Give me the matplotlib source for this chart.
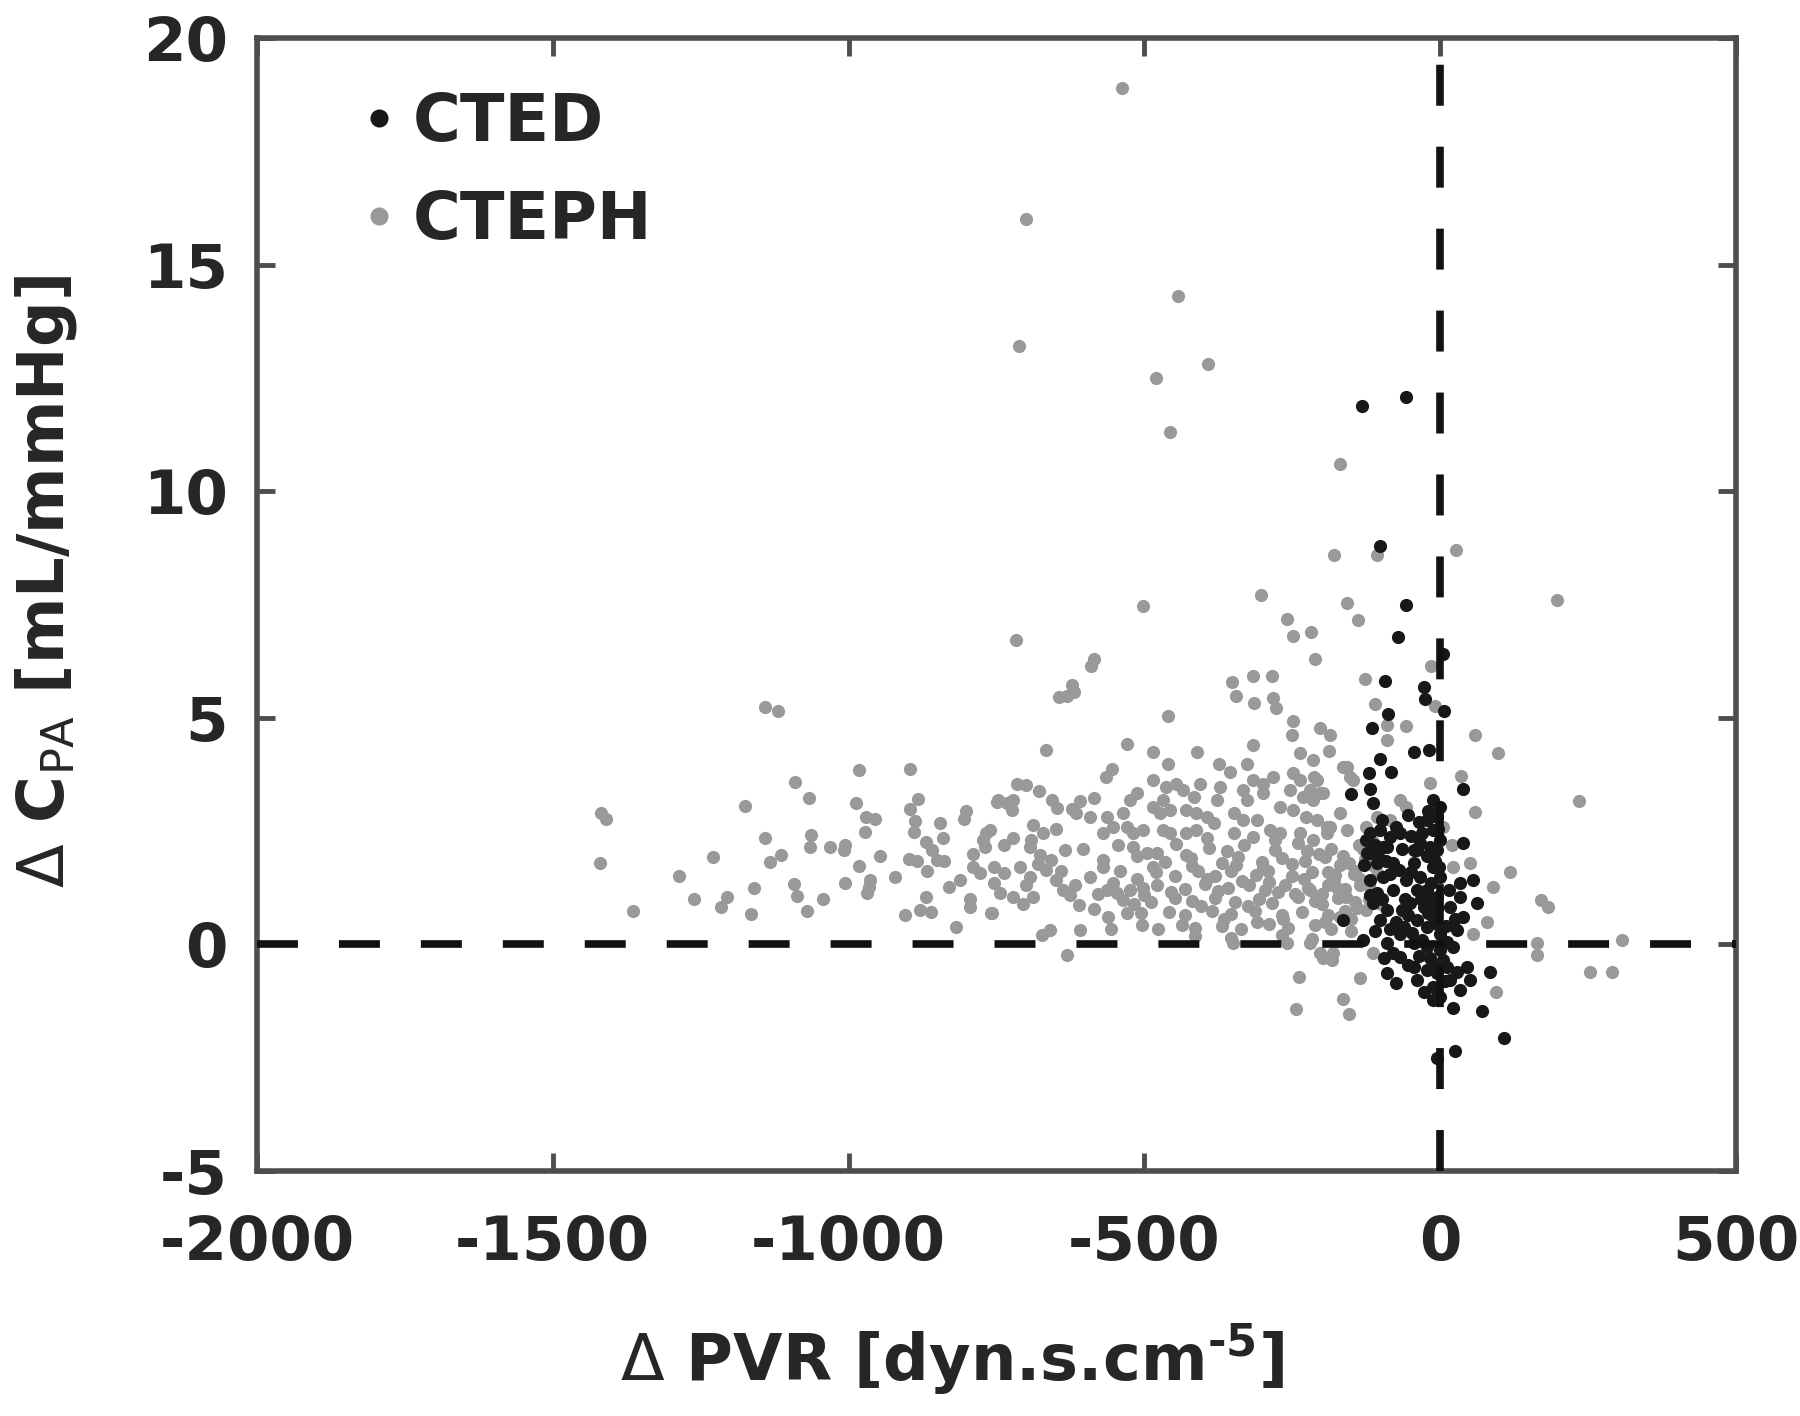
import matplotlib
matplotlib.use("Agg")
import matplotlib.pyplot as plt
from matplotlib.lines import Line2D

plt.rcParams['font.family'] = ['DejaVu Sans']
plt.rcParams['axes.unicode_minus'] = False
plt.rcParams['lines.scale_dashes'] = False
plt.rcParams['mathtext.fontset'] = 'custom'
plt.rcParams['mathtext.rm'] = 'DejaVu Sans:weight=normal'
plt.rcParams['mathtext.bf'] = 'DejaVu Sans:weight=bold'

# (delta PVR [dyn.s.cm-5], delta C_PA [mL/mmHg]) pairs
cteph_outliers = [
    (-538, 18.9), (-700, 16.0), (-443, 14.3), (-712, 13.2), (-392, 12.8),
    (-481, 12.5), (-456, 11.3), (-169, 10.6), (-179, 8.6), (-107, 8.6),
    (27, 8.7), (198, 7.6), (-303, 7.7),
]

cteph_left = [
    (-1419, 2.9), (-1410, 2.76), (-1420, 1.8), (-1365, 0.73), (-1287, 1.5),
    (-1262, 1.0), (-1230, 1.92), (-1216, 0.82), (-1205, 1.05), (-1175, 3.06),
    (-1165, 0.67), (-1160, 1.24), (-1141, 5.23), (-1120, 5.14), (-1141, 2.35),
    (-1133, 1.82), (-1115, 1.97), (-1091, 3.58), (-1093, 1.33), (-1088, 1.07),
    (-1067, 3.23), (-1064, 2.42), (-1065, 2.14), (-1071, 0.73), (-1044, 1.01),
    (-1032, 2.14), (-1006, 2.2), (-1007, 2.08), (-1006, 1.35), (-983, 3.85),
    (-987, 3.13), (-970, 2.82), (-956, 2.76), (-973, 2.47), (-983, 1.73),
    (-947, 1.94), (-964, 1.42), (-966, 1.27), (-969, 1.14), (-922, 1.48),
    (-897, 3.86), (-882, 3.2), (-896, 2.98), (-887, 2.73), (-889, 2.48),
    (-870, 2.26), (-859, 2.08), (-851, 1.86), (-838, 1.85), (-846, 2.67),
    (-841, 2.35), (-898, 1.89), (-884, 1.85), (-868, 1.61), (-870, 1.04),
    (-879, 0.76), (-860, 0.71), (-904, 0.64), (-830, 1.26), (-812, 1.41),
    (-819, 0.39), (-802, 2.95), (-805, 2.77), (-795, 1.01), (-795, 0.83),
    (-760, 0.69), (-790, 2.0), (-790, 1.71), (-778, 1.57), (-767, 2.45),
    (-770, 2.16), (-750, 3.15),
]

cteph_mid = [
    (-503, 7.47), (-717, 6.72), (-586, 6.29), (-590, 6.14), (-622, 5.73),
    (-619, 5.57), (-645, 5.45), (-630, 5.47), (-460, 5.04), (-667, 4.3),
    (-530, 4.42), (-486, 4.25), (-411, 4.25), (-460, 3.98), (-555, 3.86),
    (-565, 3.69), (-716, 3.55), (-700, 3.51), (-678, 3.39), (-748, 3.19),
    (-733, 3.11), (-724, 2.97), (-722, 3.19), (-657, 3.19), (-647, 3.02),
    (-609, 3.16), (-586, 3.22), (-622, 2.98), (-616, 2.89), (-592, 2.82),
    (-761, 2.52), (-772, 2.3), (-738, 2.19), (-722, 2.35), (-688, 2.63),
    (-671, 2.45), (-649, 2.55), (-694, 2.16), (-677, 1.97), (-658, 1.86),
    (-635, 2.08), (-755, 1.71), (-738, 1.57), (-710, 1.71), (-694, 1.49),
    (-666, 1.64), (-649, 1.42), (-638, 1.2), (-755, 1.35), (-744, 1.13),
    (-722, 1.05), (-705, 0.9), (-688, 1.05), (-758, 0.69), (-626, 1.08),
    (-611, 0.86), (-586, 0.79), (-673, 0.21), (-660, 0.32), (-631, -0.24),
    (-609, 0.32), (-556, 0.33), (-592, 1.49), (-570, 1.86), (-570, 1.71),
    (-553, 1.35), (-564, 1.2), (-547, 1.13), (-536, 0.98), (-530, 0.69),
    (-525, 1.2), (-564, 2.82), (-570, 2.45), (-553, 2.6), (-536, 2.89),
    (-525, 3.19), (-513, 3.33), (-530, 2.6), (-519, 2.45), (-502, 2.52),
    (-519, 2.16), (-513, 1.94), (-496, 2.01), (-485, 3.04), (-468, 3.19),
    (-474, 2.89), (-457, 2.97), (-485, 3.63), (-463, 3.48), (-446, 3.55),
    (-434, 3.41), (-417, 3.26), (-429, 2.97), (-412, 2.89), (-406, 3.55),
    (-468, 2.52), (-457, 2.45), (-485, 1.71), (-479, 2.01), (-429, 2.45),
    (-412, 2.52), (-700, 1.3), (-680, 1.78), (-641, 1.62), (-618, 1.31),
    (-603, 2.1), (-579, 1.12), (-561, 0.61), (-541, 1.62), (-518, 0.9),
    (-545, 2.2), (-512, 1.45), (-692, 2.31), (-503, 1.25), (-505, 0.7),
]

cteph_upper_right = [
    (-259, 7.19), (-248, 6.8), (-219, 6.89), (-211, 6.29), (-158, 7.53),
    (-139, 7.16), (-352, 5.8), (-345, 5.48), (-316, 5.92), (-285, 5.92),
    (-314, 5.32), (-283, 5.44), (-277, 5.22), (-127, 5.86), (-111, 5.3),
    (-248, 4.92), (-250, 4.63), (-203, 4.77), (-186, 4.61), (-188, 4.27),
    (-237, 4.22), (-316, 4.39), (-374, 3.98), (-355, 3.8), (-327, 3.97),
    (-316, 3.63), (-299, 3.55), (-282, 3.7), (-333, 3.41), (-327, 3.19),
    (-299, 3.33), (-372, 3.48), (-378, 3.19), (-248, 3.78), (-237, 3.63),
    (-254, 3.41), (-215, 4.07), (-209, 3.63), (-198, 3.33), (-232, 3.26),
    (-215, 3.19), (-158, 3.92), (-147, 3.63), (-395, 2.82), (-383, 2.67),
    (-349, 2.89), (-333, 2.74), (-310, 2.74), (-271, 3.04), (-248, 2.97),
    (-226, 2.82), (-209, 2.74), (-192, 2.6), (-349, 2.45), (-316, 2.38),
    (-287, 2.52), (-271, 2.45), (-237, 2.45), (-215, 2.3), (-192, 2.45),
    (-158, 2.52), (-16, 6.14), (-90, 4.85), (-90, 4.51), (-58, 4.82),
    (-8, 5.25), (59, 4.61), (98, 4.22), (234, 3.17), (35, 3.72),
    (-17, 3.57), (59, 2.92), (-164, 3.92), (-152, 3.7), (-214, 3.7),
    (-220, 3.41), (-203, 3.33), (-169, 2.89), (-186, 2.6), (-68, 3.19),
    (-57, 3.04), (-107, 2.82), (-85, 2.74),
]

cteph_band = [
    (-446, 2.21), (-391, 2.12), (-331, 2.19), (-279, 2.08), (-241, 2.23),
    (-185, 2.11), (-138, 2.2), (-466, 1.82), (-421, 1.91), (-369, 1.79),
    (-341, 1.93), (-302, 1.81), (-268, 1.9), (-229, 1.83), (-195, 1.92),
    (-154, 1.8), (-127, 1.88), (-449, 1.52), (-409, 1.63), (-381, 1.5),
    (-353, 1.61), (-312, 1.54), (-291, 1.62), (-251, 1.51), (-217, 1.6),
    (-178, 1.53), (-144, 1.62), (-478, 1.31), (-431, 1.22), (-398, 1.33),
    (-358, 1.24), (-323, 1.3), (-296, 1.21), (-262, 1.32), (-223, 1.25),
    (-189, 1.3), (-161, 1.22), (-121, 1.31), (-488, 0.93), (-448, 1.02),
    (-420, 0.95), (-381, 1.03), (-347, 0.94), (-307, 1.01), (-285, 0.92),
    (-240, 1.04), (-212, 0.95), (-172, 1.02), (-144, 0.93), (-459, 0.72),
    (-431, 0.64), (-386, 0.73), (-353, 0.66), (-313, 0.74), (-268, 0.65),
    (-234, 0.72), (-189, 0.64), (-161, 0.73), (-504, 0.42), (-477, 0.35),
    (-437, 0.43), (-415, 0.36), (-369, 0.41), (-336, 0.34), (-290, 0.44),
    (-257, 0.37), (-211, 0.42), (-184, 0.35), (-414, 0.19), (-353, 0.14),
    (-268, 0.2), (-217, 0.13), (-203, -0.19), (-181, -0.19),
    (-420, 1.72), (-395, 1.45), (-360, 2.05), (-335, 1.4), (-300, 1.7),
    (-275, 1.15), (-250, 1.78), (-230, 1.45), (-205, 2.0), (-200, 1.12),
    (-170, 1.75), (-160, 1.05), (-135, 1.45), (-130, 2.1), (-455, 1.15),
    (-430, 1.98), (-405, 0.85), (-375, 1.17), (-345, 1.75), (-325, 0.85),
    (-290, 1.38), (-265, 0.55), (-245, 1.12), (-225, 2.05), (-195, 0.5),
    (-175, 1.25), (-150, 0.55), (-125, 0.75), (-480, 1.6), (-500, 1.1),
    (-395, 2.35), (-365, 0.55), (-310, 0.5), (-280, 2.3), (-190, 1.6),
    (-115, 1.1), (-115, 2.3), (-105, 1.55), (-100, 0.9), (-125, 2.6),
    (-165, 1.95), (-120, 1.0), (-140, 0.8), (-150, 0.3), (-135, 1.3),
    (-170, 0.6), (-200, 0.9), (-220, 1.2), (-180, 1.45), (-110, 1.7),
    (-145, 1.55),
]

cteph_low_right = [
    (-238, -0.73), (-244, -1.43), (-136, -0.75), (-164, -1.21), (-154, -1.54),
    (-113, -0.2), (-198, -0.31), (-183, -0.34), (-350, 0.03), (-259, 0.03),
    (-220, 0.03), (118, 1.6), (171, 0.98), (183, 0.83), (163, 0.02),
    (163, -0.23), (253, -0.6), (291, -0.6), (307, 0.1), (22, 1.71),
    (50, 1.79), (90, 1.27), (79, 0.5), (56, 0.24), (95, -1.04),
    (5, 2.6), (20, 2.2),
]

cted_points = [
    (-132, 11.88), (-58, 12.08), (-101, 8.79), (-57, 7.48), (-71, 6.78),
    (-93, 5.82), (-27, 5.67), (-25, 5.41), (6, 5.16), (5, 6.41),
    (-88, 5.08), (-115, 4.78), (-45, 4.25), (-19, 4.29), (-101, 4.1),
    (-83, 3.8), (-121, 3.78), (-119, 3.42), (-151, 3.32), (-113, 3.11),
    (38, 3.42), (-12, 3.19), (0, 3.04), (-6, 2.82), (-23, 2.74),
    (-12, 2.52), (0, 2.3), (-17, 2.16), (-34, 2.23), (-45, 2.08),
    (-119, 2.45), (-102, 2.52), (-85, 2.38), (-68, 2.45), (-96, 2.16),
    (-119, 2.01), (39, 2.24), (-124, 2.01), (-107, 1.79), (-90, 2.16),
    (-79, 1.79), (-40, 2.08), (-23, 1.94), (-6, 2.08), (-45, 1.79),
    (-12, 1.71), (0, 1.49), (-119, 1.42), (-96, 1.49), (-107, 1.13),
    (-113, 0.91), (-90, 0.76), (-102, 0.54), (-57, 1.42), (-34, 1.49),
    (-40, 1.2), (-23, 1.2), (-51, 0.91), (-28, 0.83), (-6, 1.05),
    (-12, 0.61), (-40, 0.54), (-62, 0.39), (-68, 0.24), (-23, 0.39),
    (0, 0.24), (17, 0.83), (34, 1.35), (56, 1.42), (62, 0.91),
    (34, 1.05), (39, 0.61), (28, 0.32), (-164, 0.54), (-130, 0.1),
    (-90, 0.02), (-68, -0.27), (-45, 0.02), (-23, -0.05), (0, -0.12),
    (22, -0.05), (-90, -0.64), (-74, -0.86), (-45, -0.49), (-40, -0.79),
    (-23, -0.56), (-6, -0.64), (11, -0.49), (-12, -0.93), (0, -1.15),
    (-12, -1.23), (17, -0.79), (34, -1.0), (45, -0.49), (50, -0.79),
    (84, -0.6), (22, -1.41), (70, -1.46), (107, -2.07), (-6, -2.5),
    (25, -2.35), (-60, 1.0), (-80, 1.2), (-30, 0.1), (-15, 1.35),
    (-50, 2.4), (-35, 2.7), (-8, 1.85), (-55, 0.65), (-75, 0.5),
    (10, 0.4), (-18, -0.3), (5, -0.35), (-128, 1.75), (-98, 2.75),
    (-110, 0.3), (-125, 2.3), (-110, 2.2), (-105, 1.95), (-92, 1.85),
    (-85, 1.55), (-70, 1.65), (-65, 2.1), (-75, 2.6), (-55, 2.85),
    (-30, 2.45), (-20, 2.95), (-3, 2.55), (-50, 1.6), (-32, 1.0),
    (-15, 0.95), (-5, 0.8), (-48, 0.25), (-35, -0.25), (-55, -0.45),
    (-80, -0.2), (-10, -0.45), (8, -0.8), (-28, -1.05), (-20, 0.7),
    (15, 1.2), (-118, 1.1), (-98, 1.0), (-85, 0.35), (-64, 0.75),
    (-5, 0.45), (12, 0.05), (25, 0.55), (-2, 1.7), (-95, -0.3),
    (28, -0.6),
]

cteph_points = (cteph_outliers + cteph_left + cteph_mid + cteph_upper_right
                + cteph_band + cteph_low_right)

x_ticks = [-2000, -1500, -1000, -500, 0, 500]
y_ticks = [-5, 0, 5, 10, 15, 20]

text_col = '#262626'
axis_col = '#4d4d4d'
gray = '#999999'
black = '#181818'

fig = plt.figure(figsize=(18, 14.16), dpi=100)
ax = fig.add_axes([257 / 1800, 1 - 1171 / 1416, 1479 / 1800, 1133 / 1416])

cx, cy = zip(*cteph_points)
ax.scatter(cx, cy, s=90, color=gray, linewidths=0, zorder=2)
bx, by = zip(*cted_points)
ax.scatter(bx, by, s=90, color=black, linewidths=0, zorder=2.5)

# dashed reference lines at zero
ax.plot([-2000, 500], [0, 0], color='#111111', lw=5.5,
        ls=(0, (29.5, 29.5)), dash_capstyle='butt', zorder=3)
ax.plot([0, 0], [-5, 20], color='#111111', lw=5.5,
        ls=(0, (29.5, 29.5)), dash_capstyle='butt', zorder=3)

ax.set_xlim(-2000, 500)
ax.set_ylim(-5, 20)
ax.set_xticks(x_ticks)
ax.set_yticks(y_ticks)

for sp in ax.spines.values():
    sp.set_color(axis_col)
    sp.set_linewidth(4)
ax.tick_params(direction='in', length=13, width=3.5, color=axis_col,
               top=True, right=True, labelsize=44, labelcolor=text_col)
ax.tick_params(axis='x', pad=31)
ax.tick_params(axis='y', pad=21)
for lab in ax.get_xticklabels() + ax.get_yticklabels():
    lab.set_fontweight('bold')

ax.set_xlabel('$\\Delta$ PVR [dyn.s.cm$^{\\mathbf{\u20105}}$]', fontsize=46,
              fontweight='bold', color=text_col)
ax.xaxis.set_label_coords(0.47, -0.133)
ax.set_ylabel('$\\Delta$ C$_{\\mathrm{PA}}$ [mL/mmHg]', fontsize=46,
              fontweight='bold', color=text_col)
ax.yaxis.set_label_coords(-0.1427, 0.52)
ax.yaxis.label.set_verticalalignment('center')

handles = [
    Line2D([], [], ls='none', marker='o', ms=13, color=black, mec='none'),
    Line2D([], [], ls='none', marker='o', ms=13, color=gray, mec='none'),
]
ax.legend(handles, ['CTED', 'CTEPH'], loc='upper left',
          bbox_to_anchor=(0.065, 0.953), frameon=False, borderpad=0,
          borderaxespad=0, handlelength=0.8, handletextpad=0.12,
          labelspacing=0.52, prop={'size': 47, 'weight': 'bold'},
          labelcolor=text_col)

fig.savefig('out.png', dpi=100, facecolor='white')
